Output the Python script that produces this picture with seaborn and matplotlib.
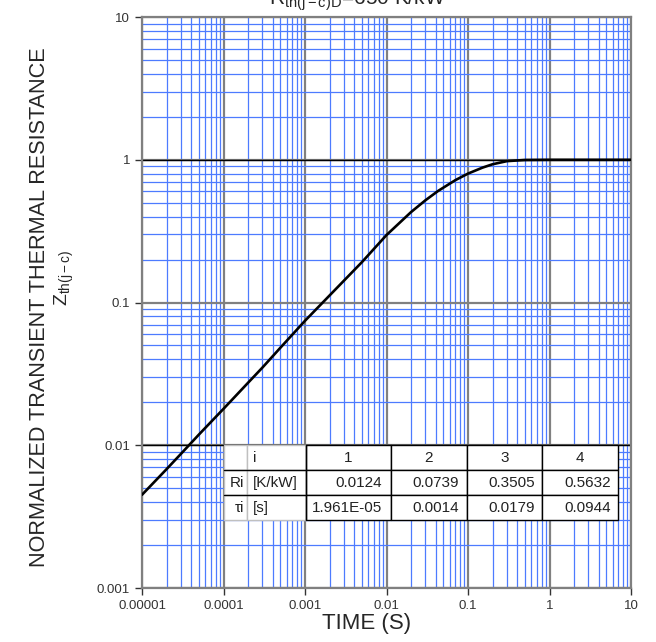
import matplotlib
matplotlib.use("Agg")
import matplotlib.pyplot as plt
from matplotlib.lines import Line2D
from matplotlib.ticker import FixedLocator, FixedFormatter, LogLocator, NullFormatter
import seaborn as sns

# curve (time in s, normalized Zth)
time_s = [1e-5, 2e-5, 3e-5, 5e-5, 1e-4, 2e-4, 3e-4, 5e-4, 1e-3, 2e-3, 5e-3,
          1e-2, 2e-2, 3e-2, 4.3e-2, 7e-2, 0.1, 0.15, 0.2, 0.3, 0.5, 1, 3, 10]
zth = [0.0045, 0.0068, 0.0087, 0.0119, 0.018, 0.0274, 0.035, 0.0483, 0.0745, 0.112, 0.192,
       0.297, 0.43, 0.52, 0.605, 0.72, 0.80, 0.88, 0.93, 0.978, 0.997, 1.0, 1.0, 1.0]

x_ticks = [1e-5, 1e-4, 1e-3, 1e-2, 1e-1, 1, 10]
x_tick_labels = ["0.00001", "0.0001", "0.001", "0.01", "0.1", "1", "10"]
y_ticks = [0.001, 0.01, 0.1, 1, 10]
y_tick_labels = ["0.001", "0.01", "0.1", "1", "10"]
black_rows = [0.01, 1]

# thermal model table
stage = ["1", "2", "3", "4"]
ri_values = ["0.0124", "0.0739", "0.3505", "0.5632"]
tau_values = ["1.961E-05", "0.0014", "0.0179", "0.0944"]

sns.set_style("white")
plt.rcParams["font.family"] = ["Liberation Sans", "DejaVu Sans"]
plt.rcParams["mathtext.fontset"] = "custom"
plt.rcParams["mathtext.rm"] = "Liberation Sans"
plt.rcParams["mathtext.it"] = "Liberation Sans"

fig = plt.figure(figsize=(6.56, 6.42), dpi=100)
ax = fig.add_axes([0.2165, 0.0841, 0.7454, 0.8894])
ax.set_xscale("log")
ax.set_yscale("log")
ax.set_xlim(1e-5, 10)
ax.set_ylim(0.001, 10)

# grid: blue minor, grey major
ax.xaxis.set_minor_locator(LogLocator(base=10, subs=range(2, 10)))
ax.yaxis.set_minor_locator(LogLocator(base=10, subs=range(2, 10)))
ax.xaxis.set_minor_formatter(NullFormatter())
ax.yaxis.set_minor_formatter(NullFormatter())
ax.grid(which="minor", color="#4d7bff", lw=0.9)
ax.grid(which="major", color="#808080", lw=1.6)
for yv in black_rows:
    ax.axhline(yv, color="black", lw=1.0, zorder=1.2)

ax.xaxis.set_major_locator(FixedLocator(x_ticks))
ax.xaxis.set_major_formatter(FixedFormatter(x_tick_labels))
ax.yaxis.set_major_locator(FixedLocator(y_ticks))
ax.yaxis.set_major_formatter(FixedFormatter(y_tick_labels))
ax.tick_params(which="major", direction="out", length=5, width=1, color="#333333",
               labelsize=9.5, labelcolor="#333333", bottom=True, left=True)
ax.tick_params(which="minor", length=0)
for side in ["left", "bottom", "top", "right"]:
    ax.spines[side].set_color("#808080")
    ax.spines[side].set_linewidth(1.6)

sns.lineplot(x=time_s, y=zth, ax=ax, color="black", lw=1.9, zorder=4)

# table with the Foster model values
rows = [["", "i"] + stage,
        ["Ri", "[K/kW]"] + ri_values,
        ["\u03c4i", "[s]"] + tau_values]
col_w = [0.0576, 0.1504, 0.2148, 0.1927, 0.1917, 0.1927]
tb = [0.1677, 0.119, 0.8063, 0.1314]
tbl = ax.table(cellText=rows, colWidths=col_w, bbox=tb, cellLoc="right")
tbl.auto_set_font_size(False)
tbl.set_fontsize(11)
tbl.set_zorder(5)
for (r, c), cell in tbl.get_celld().items():
    cell.set_facecolor("white")
    cell.set_linewidth(1.0)
    if c < 2:
        cell.set_edgecolor("#c0c0c0")
    else:
        cell.set_edgecolor("black")
    if c == 1:
        cell.set_text_props(ha="left")
    elif r == 0 and c > 1:
        cell.set_text_props(ha="center")
    cell.get_text().set_color("#222222")

# black row dividers also run through the label columns
split_x = tb[0] + tb[2] * (col_w[0] + col_w[1])
for k in (1, 2):
    yk = tb[1] + tb[3] * k / 3
    ax.add_line(Line2D([tb[0], split_x], [yk, yk], transform=ax.transAxes,
                       color="black", lw=1.0, zorder=6))
ax.add_line(Line2D([split_x, split_x], [tb[1], tb[1] + tb[3]], transform=ax.transAxes,
                   color="black", lw=1.0, zorder=6))

# labels
fig.text(357 / 656, 1 - 5 / 642, r"R$_{\mathrm{th(j-c)D}}$=650 K/kW",
         ha="center", va="baseline", fontsize=15)
fig.text(367 / 656, 1 - 623 / 642, "TIME (S)", ha="center", va="center", fontsize=16)
fig.text(40 / 656, 1 - 307 / 642, "NORMALIZED TRANSIENT THERMAL RESISTANCE",
         rotation=90, ha="center", va="center", fontsize=15.6)
fig.text(64 / 656, 1 - 278 / 642, r"Z$_{\mathrm{th(j-c)}}$",
         rotation=90, ha="center", va="center", fontsize=14)

fig.savefig("out.png", dpi=100)
